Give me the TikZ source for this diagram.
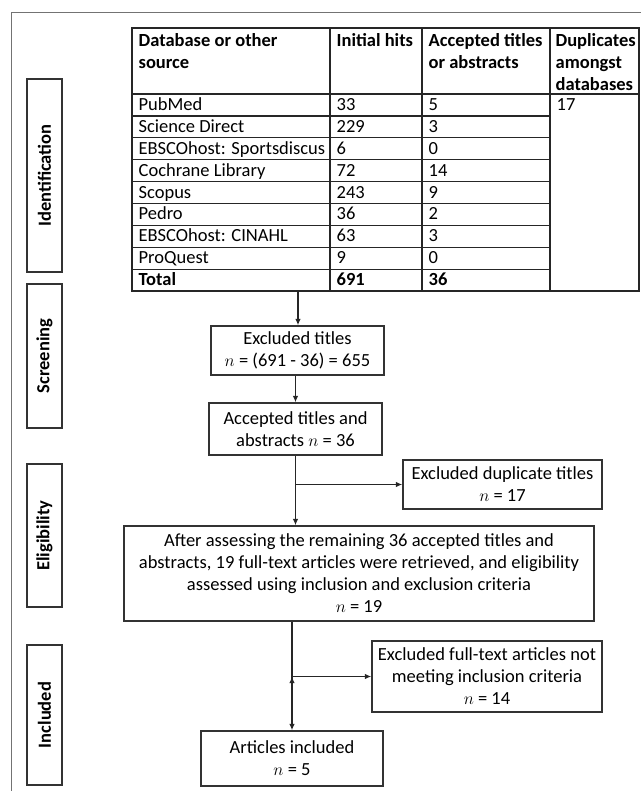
\documentclass[tikz,border=0pt]{standalone}
\usepackage{fontspec}
\setmainfont{Carlito}
\usetikzlibrary{arrows.meta}

\begin{document}
\begin{tikzpicture}[x=1pt, y=-1pt, >={Latex[length=6.5pt,width=5.5pt]}, line width=1.3pt,
    every node/.style={font=\fontsize{18.5}{22}\selectfont},
    flow box/.style={draw=black!80, align=center, inner sep=0pt},
    phase box/.style={draw=black!80, rotate=90, inner sep=0pt, minimum height=35pt, font=\fontsize{18.5}{22}\selectfont\bfseries},
    cell/.style={anchor=base west, inner sep=0pt},
    head/.style={anchor=north west, inner sep=0pt, align=left, font=\fontsize{18.5}{22}\selectfont\bfseries},
    tab line/.style={draw=black!85}]
        \useasboundingbox (0,0) rectangle (641,791);
        % Outer frame (cut off at right and bottom)
        \draw[black!55, line width=1pt] (11,791) -- (11,13) -- (641,13);

        % Phase labels
        \node[phase box, minimum width=193pt] (ident) at (44.5,175.5) {Identification};
        \node[phase box, minimum width=144pt] (screen) at (44.5,356) {Screening};
        \node[phase box, minimum width=143pt] (eligib) at (44.5,535.5) {Eligibility};
        \node[phase box, minimum width=140pt] (includ) at (44.5,715) {Included};

        % Search table
        \draw[tab line] (132,28) rectangle (639,291);
        \foreach \x in {330,422,550}
            \draw[tab line] (\x,28) -- (\x,291);
        \draw[tab line] (132,94) -- (639,94);
        \foreach \i in {1,...,8}
            \draw[tab line] (132,94+\i*21.9) -- (550,94+\i*21.9);

        \node[head] (h-src) at (138,33) {Database or other\\source};
        \node[head] (h-hit) at (336,33) {Initial hits};
        \node[head] (h-ok) at (428,33) {Accepted titles\\or abstracts};
        \node[head] (h-dup) at (555,33) {Duplicates\\amongst\\databases};

        \foreach \src/\hits/\ok [count=\i] in {PubMed/33/5, Science Direct/229/3,
                EBSCOhost: Sportsdiscus/6/0, Cochrane Library/72/14, Scopus/243/9,
                Pedro/36/2, EBSCOhost: CINAHL/63/3, ProQuest/9/0} {
            \pgfmathsetmacro\yb{94+(\i-1)*21.9+16.5}
            \node[cell] (src-\i) at (138,\yb) {\src};
            \node[cell] (hit-\i) at (336,\yb) {\hits};
            \node[cell] (ok-\i) at (428,\yb) {\ok};
        }
        \node[cell, font=\fontsize{18.5}{22}\selectfont\bfseries] (src-tot) at (138,285.7) {Total};
        \node[cell, font=\fontsize{18.5}{22}\selectfont\bfseries] (hit-tot) at (336,285.7) {691};
        \node[cell, font=\fontsize{18.5}{22}\selectfont\bfseries] (ok-tot) at (428,285.7) {36};
        \node[cell] (dup-tot) at (556,110.5) {17};
        \coordinate (tabbot) at (298,291);

        % Flow boxes
        \node[flow box, minimum width=173pt, minimum height=49pt] (excl) at (297.5,350.5)
            {Excluded titles\\$n$ = (691 - 36) = 655};
        \node[flow box, minimum width=173pt, minimum height=52pt] (acc) at (295.5,429)
            {Accepted titles and\\abstracts $n$ = 36};
        \node[flow box, minimum width=199pt, minimum height=49pt] (dup) at (502.5,484.5)
            {Excluded duplicate titles\\$n$ = 17};
        \node[flow box, minimum width=470pt, minimum height=95pt] (elig) at (359,573.5)
            {After assessing the remaining 36 accepted titles and\\abstracts, 19 full-text articles were retrieved, and eligibility\\assessed using inclusion and exclusion criteria\\$n$ = 19};
        \node[flow box, minimum width=230pt, minimum height=71pt] (exft) at (487,676.5)
            {Excluded full-text articles not\\meeting inclusion criteria\\$n$ = 14};
        \node[flow box, minimum width=182pt, minimum height=55pt] (incl) at (292,758.5)
            {Articles included\\$n$ = 5};

        % Arrows
        \path[->, draw=black!85]
        (tabbot) edge (tabbot |- excl.north)
        (acc.north |- excl.south) edge (acc.north)
        (acc.south) edge (acc.south |- elig.north)
        (acc.south |- dup.west) edge (dup.west)
        (incl.north |- elig.south) edge (incl.north)
        (incl.north |- exft.west) edge (exft.west);
    \end{tikzpicture}
\end{document}
